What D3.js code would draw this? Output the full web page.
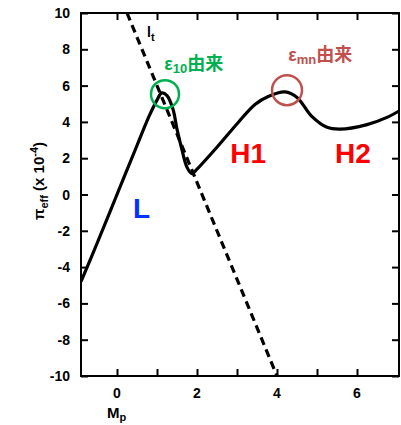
<!DOCTYPE html>
<html>
<head>
<meta charset="utf-8">
<script src="https://cdn.jsdelivr.net/npm/d3@7"></script>
<style>
  body { margin: 0; background: #fff; }
  text { font-family: "Liberation Sans", Arial, sans-serif; }
</style>
</head>
<body>
<svg id="chart" width="401" height="425"></svg>
<script>
// values
var curve_x = [-0.9, -0.5, 0, 0.5, 0.8, 1.0, 1.12, 1.25, 1.4, 1.5, 1.62, 1.75, 1.87, 2.0, 2.52, 3.03, 3.45, 3.78, 4.2, 4.5, 4.87, 5.25, 5.57, 6.25, 6.75, 7.05];
var curve_y = [-4.8, -2.7, 0, 2.7, 4.3, 5.2, 5.6, 5.45, 4.7, 3.6, 2.5, 1.5, 1.15, 1.4, 2.66, 3.97, 4.96, 5.4, 5.65, 5.35, 4.3, 3.7, 3.6, 3.85, 4.25, 4.6];
var dash_x = [0.25, 4.0];
var dash_y = [10, -10];
var xticks = [0, 1, 2, 3, 4, 5, 6];
var xlabels = [0, 2, 4, 6];
var yticks = [-10, -8, -6, -4, -2, 0, 2, 4, 6, 8, 10];

var xrange = [-0.9, 7.05];
var yrange = [-10, 10];

var svg = d3.select("#chart");
var m = {left: 81, right: 399, top: 13, bottom: 376};

var x = d3.scaleLinear().domain(xrange).range([m.left, m.right]);
var y = d3.scaleLinear().domain(yrange).range([m.bottom, m.top]);

svg.append("defs").append("clipPath").attr("id", "clip")
  .append("rect")
  .attr("x", m.left).attr("y", m.top)
  .attr("width", m.right - m.left).attr("height", m.bottom - m.top);

// frame with inward ticks
var yAxisL = d3.axisRight(y).tickValues(yticks).tickSize(7).tickFormat("");
var yAxisR = d3.axisLeft(y).tickValues(yticks).tickSize(7).tickFormat("");
var xAxisB = d3.axisTop(x).tickValues(xticks).tickSize(7).tickFormat("");
var xAxisT = d3.axisBottom(x).tickValues(xticks).tickSize(7).tickFormat("");

function style_axis(g) {
  g.select(".domain").remove();
  g.selectAll("line").attr("stroke", "#000").attr("stroke-width", 2);
}

svg.append("g").attr("transform", "translate(" + m.left + ",0)").call(yAxisL).call(style_axis);
svg.append("g").attr("transform", "translate(" + m.right + ",0)").call(yAxisR).call(style_axis);
svg.append("g").attr("transform", "translate(0," + m.bottom + ")").call(xAxisB).call(style_axis);
svg.append("g").attr("transform", "translate(0," + m.top + ")").call(xAxisT).call(style_axis);

svg.append("rect")
  .attr("x", m.left).attr("y", m.top)
  .attr("width", m.right - m.left).attr("height", m.bottom - m.top)
  .attr("fill", "none")
  .attr("stroke", "#000")
  .attr("stroke-width", 2);

// tick labels
svg.append("g").selectAll("text")
  .data(yticks)
  .enter().append("text")
  .attr("x", 70)
  .attr("y", function(d) { return y(d); })
  .attr("dy", "0.36em")
  .attr("text-anchor", "end")
  .attr("font-size", "14px")
  .attr("font-weight", "bold")
  .text(function(d) { return d; });

svg.append("g").selectAll("text")
  .data(xlabels)
  .enter().append("text")
  .attr("x", function(d) { return x(d); })
  .attr("y", 398)
  .attr("text-anchor", "middle")
  .attr("font-size", "14px")
  .attr("font-weight", "bold")
  .text(function(d) { return d; });

// axis titles
var xt = svg.append("text")
  .attr("x", 107)
  .attr("y", 418)
  .attr("font-size", "15px")
  .attr("font-weight", "bold");
xt.append("tspan").text("M");
xt.append("tspan").attr("dy", 3).attr("font-size", "11px").text("p");

var yt = svg.append("text")
  .attr("transform", "translate(44,220) rotate(-90)")
  .attr("font-size", "15px")
  .attr("font-weight", "bold");
yt.append("tspan").text("π");
yt.append("tspan").attr("dy", 4).attr("font-size", "11px").text("eff");
yt.append("tspan").attr("dy", -4).text(" (x 10");
yt.append("tspan").attr("dy", -6).attr("font-size", "11px").text("-4");
yt.append("tspan").attr("dy", 6).text(")");

// curves
var pts = curve_x.map(function(d, i) { return [d, curve_y[i]]; });
var line = d3.line()
  .x(function(d) { return x(d[0]); })
  .y(function(d) { return y(d[1]); })
  .curve(d3.curveCatmullRom.alpha(0.5));

var plot = svg.append("g").attr("clip-path", "url(#clip)");

plot.append("path")
  .datum(dash_x.map(function(d, i) { return [d, dash_y[i]]; }))
  .attr("fill", "none")
  .attr("stroke", "#000")
  .attr("stroke-width", 3.2)
  .attr("stroke-dasharray", "8,5")
  .attr("d", d3.line().x(function(d) { return x(d[0]); }).y(function(d) { return y(d[1]); }));

plot.append("path")
  .datum(pts)
  .attr("fill", "none")
  .attr("stroke", "#000")
  .attr("stroke-width", 3.2)
  .attr("stroke-linejoin", "round")
  .attr("d", line);

// l_t label
var lt = svg.append("text")
  .attr("x", x(0.75))
  .attr("y", y(8.7))
  .attr("font-size", "14px")
  .attr("font-weight", "bold");
lt.append("tspan").text("l");
lt.append("tspan").attr("dy", 4).attr("font-size", "11px").text("t");

// circles
svg.append("circle")
  .attr("cx", x(1.2)).attr("cy", y(5.53)).attr("r", 14)
  .attr("fill", "none").attr("stroke", "#00b050").attr("stroke-width", 2.5);
svg.append("circle")
  .attr("cx", x(4.25)).attr("cy", y(5.75)).attr("r", 15)
  .attr("fill", "none").attr("stroke", "#c0504d").attr("stroke-width", 2.5);

// annotations
function eps_label(px, py, sub, color) {
  var t = svg.append("text")
    .attr("x", x(px)).attr("y", y(py))
    .attr("fill", color)
    .attr("font-weight", "bold")
    .attr("font-size", "18px");
  t.append("tspan").text("ε");
  t.append("tspan").attr("dy", 3).attr("font-size", "13px").text(sub);
  t.append("tspan").attr("dy", -3).attr("font-family", "'Noto Sans CJK SC'").text("由来");
}
eps_label(1.18, 6.85, "10", "#00b050");
eps_label(4.28, 7.35, "mn", "#c0504d");

svg.append("text").attr("x", x(0.4)).attr("y", y(-1.3))
  .attr("fill", "#0033ff").attr("font-weight", "bold").attr("font-size", "28px").text("L");
svg.append("text").attr("x", x(2.83)).attr("y", y(1.73))
  .attr("fill", "#ff0000").attr("font-weight", "bold").attr("font-size", "28px").text("H1");
svg.append("text").attr("x", x(5.45)).attr("y", y(1.73))
  .attr("fill", "#ff0000").attr("font-weight", "bold").attr("font-size", "28px").text("H2");
</script>
</body>
</html>
